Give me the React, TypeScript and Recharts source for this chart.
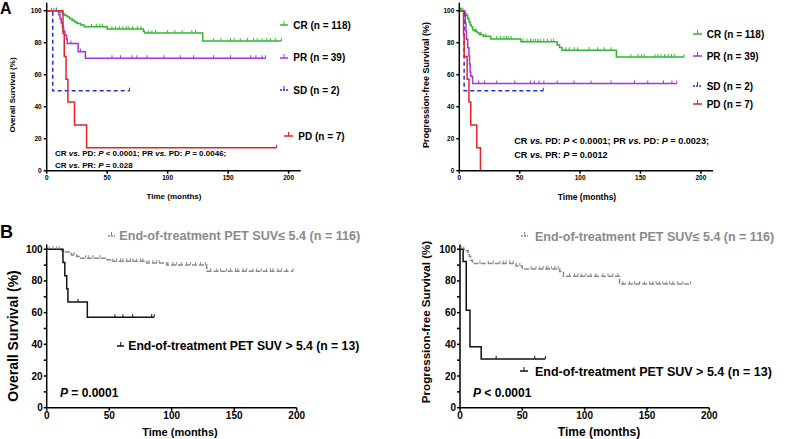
import React from 'react';
import { ComposedChart, Line, Scatter, XAxis, YAxis } from 'recharts';

const FONT = '"Liberation Sans", Arial, Helvetica, sans-serif';

// ---------- Panel A: overall survival by response ----------
const aOsCR = [[0,100],[10,99],[13,98],[15,97],[17,96],[19,95],[21,94],[23,93],[25,92],[28,91],[31,90],[50,88.5],[80,87],[81,86],[129,81]];
const aOsCREnd = 194;
const aOsCRCens = [4,6,8,37,41,44,46,54,57,60,63,66,68,71,75,78,84,87,90,100,106,112,120,123,138,144,152,155,160,166,171,174,178,182,185,189,194];
const aOsPR = [[0,100],[10,97.4],[11,94.9],[12,92.3],[13,89.7],[14,87.2],[15,84.6],[16.5,82.1],[17,79.5],[26,74.4],[32,70.3]];
const aOsPREnd = 181;
const aOsPRCens = [8,20,28,54,61,70.5,74.5,83,97,110.5,121.5,138,152,168.6,173,178,181];
const aOsSD = [[0,100],[5,50]];
const aOsSDEnd = 68.5;
const aOsSDCens = [68.5];
const aOsPD = [[0,100],[13.5,85.7],[14.5,71.4],[16,57.1],[17.5,42.9],[23,28.6],[33,14.3]];
const aOsPDEnd = 190;
const aOsPDCens = [190];

// ---------- Panel A: progression-free survival by response ----------
const aPfsCR = [[0,100],[4,99],[5,98],[6,97],[7,95],[8,93],[9,91],[10,90],[11,88],[13,87],[15,86],[17,85],[20,84],[26,82.3],[51,80.6],[81,78.5],[83,77],[85,75.3],[130,71]];
const aPfsCREnd = 186;
const aPfsCRCens = [1,2,3,14,18,22,31,34,37,39,41,43,53,56,59,61,63,65,67,70,73,76,78,88,91,95,98,107.5,114.5,120,125.6,142,148,151,153,162,164.5,167,170,173,175.6,178,186];
const aPfsPR = [[0,100],[4.5,97.4],[5,92.3],[5.5,87.2],[6,82.1],[7,76.9],[8,71.8],[8.5,66.7],[9,61.5],[9.5,59],[11,54.5]];
const aPfsPREnd = 180;
const aPfsPRCens = [16,21,31,46,59,62,66,70,81,95,109,125.6,145,156,169,176,180];
const aPfsSD = [[0,100],[4,50]];
const aPfsSDEnd = 69.5;
const aPfsSDCens = [69.5];
const aPfsPD = [[0,100],[3.5,85.7],[4,71.4],[6.5,57.1],[8,42.9],[9.5,28.6],[14.5,14.3],[17.5,0]];
const aPfsPDEnd = 17.5;
const aPfsPDCens: number[] = [];

// ---------- Panel B: overall survival by end-of-treatment PET SUV ----------
const bOsLow = [[0,100],[12,99.1],[15,98.2],[18,97.3],[20,96.4],[24,95.5],[26,94.4],[48,93.4],[51,92.4],[80,91.3],[96,90.1],[128,86.1]];
const bOsLowEnd = 197;
const bOsLowCens = [2,5,8,10,22,31,33.3,37,42.6,53,56,59,61,64,67,69,72,75,77,82,85,88,90,97,101,104,108,112,115,119,123,127,131,136,139,144,147,151,153,157,160,165,168,172,176,179,181,185,188,192,197];
const bOsHigh = [[0,100],[13,91.7],[14.5,83.3],[16,75],[17,66.7],[32.5,57.1]];
const bOsHighEnd = 86;
const bOsHighCens = [25,54.6,61,68.8,84,86];

// ---------- Panel B: progression-free survival by end-of-treatment PET SUV ----------
const bPfsLow = [[0,100],[5,99],[6.5,97.3],[7.5,95.5],[8.5,93],[10,91],[45,89.5],[50,87.5],[80,85.9],[83,83],[128,78]];
const bPfsLowEnd = 185;
const bPfsLowCens = [1,3,16,22.7,26.7,32,34.7,37,40,42.7,48,57,61,64,66.7,69.3,70.7,73.3,76,78.7,88,92,94.7,97.3,101,105,109,114.7,118.7,122.7,126.7,130.7,136,140,144,148,152,154.7,157.3,160,162.7,165.3,168,170.7,174.7,178.7,185];
const bPfsHigh = [[0,100],[2.5,92.3],[5,61.5],[8,38.5],[17,30.8]];
const bPfsHighEnd = 68.5;
const bPfsHighCens = [29,60,68.5];

const xTicksA = [0, 50, 100, 150, 200];
const yTicksA = [0, 20, 40, 60, 80, 100];
const xTicksB = [0, 50, 100, 150, 200];
const yTicksB = [0, 10, 20, 30, 40, 50, 60, 70, 80, 90, 100];

const GREEN = '#2fb82f';
const PURPLE = '#a436d8';
const BLUE = '#2430d8';
const RED = '#e82222';
const GRAY = '#8a8a8a';
const BLACK = '#111111';

type Series = { steps: number[][]; end: number; cens: number[]; color: string; dash?: string; width?: number };

function survAt(steps: number[][], t: number) {
  let s = steps[0][1];
  for (const [tt, ss] of steps) if (tt <= t) s = ss;
  return s;
}

function lineData(se: Series) {
  const pts = se.steps.map(([t, s]) => ({ t, s }));
  const last = se.steps[se.steps.length - 1];
  if (se.end > last[0]) pts.push({ t: se.end, s: last[1] });
  return pts;
}

function censData(se: Series) {
  return se.cens.map((t) => ({ t, s: survAt(se.steps, t) }));
}

function Panel(props: any) {
  const { left, top, width, height, margin, yWidth, xHeight, xDomain, xTicks, yDomain, yTicks, fontSize, tickSize, tickMargin, series, minorEvery } = props;
  const tickStyle = { fill: '#000', fontSize, fontWeight: 'bold', fontFamily: FONT };
  const withCens = series.filter((se: Series) => se.cens.length > 0);
  return (
    <div style={{ position: 'absolute', left, top }}>
      <ComposedChart width={width} height={height} margin={margin}>
        <XAxis type="number" dataKey="t" domain={xDomain} ticks={xTicks} interval={0} allowDataOverflow
          height={xHeight} tick={tickStyle} tickSize={tickSize} tickMargin={tickMargin}
          axisLine={{ stroke: '#000', strokeWidth: 1.5 }} tickLine={{ stroke: '#000', strokeWidth: 1.5 }} />
        <YAxis type="number" dataKey="s" domain={yDomain} ticks={yTicks} interval={0} allowDataOverflow
          width={yWidth} tick={tickStyle} tickSize={tickSize} tickMargin={tickMargin}
          tickFormatter={(v: number) => (v % minorEvery === 0 ? String(v) : '')}
          axisLine={{ stroke: '#000', strokeWidth: 1.5 }} tickLine={{ stroke: '#000', strokeWidth: 1.5 }} />
        {series.map((se: Series, i: number) => (
          <Line key={'l' + i} data={lineData(se)} dataKey="s" type="stepAfter" stroke={se.color}
            strokeWidth={se.width ?? 1.5} strokeDasharray={se.dash} dot={false} activeDot={false}
            isAnimationActive={false} legendType="none" />
        ))}
        {withCens.map((se: Series, i: number) => (
          <Scatter key={'c' + i} data={censData(se)} dataKey="s" isAnimationActive={false} legendType="none"
            shape={(p: any) =>
              typeof p.cx === 'number' && typeof p.cy === 'number' && p.payload && typeof p.payload.t === 'number' ? (
                <line x1={p.cx} x2={p.cx} y1={p.cy - 3} y2={p.cy} stroke={se.color} strokeWidth={1} />
              ) : <g />
            } />
        ))}
      </ComposedChart>
    </div>
  );
}

function Txt({ x, y, size, children, color = '#000', anchor = 'left', rotate = false }: any) {
  const tf = rotate
    ? 'translate(-50%, -50%) rotate(-90deg)'
    : anchor === 'center' ? 'translate(-50%, -50%)' : 'translate(0, -50%)';
  return (
    <div style={{ position: 'absolute', left: x, top: y, transform: tf, whiteSpace: 'nowrap', fontFamily: FONT,
      fontWeight: 'bold', fontSize: size, color, lineHeight: 1 }}>
      {children}
    </div>
  );
}

function Marker({ x, y, w, color, dash }: any) {
  return (
    <svg style={{ position: 'absolute', left: x, top: y - 4 }} width={w} height={6}>
      <line x1={0} x2={w} y1={4} y2={4} stroke={color} strokeWidth={1.5} strokeDasharray={dash} />
      <line x1={w / 2} x2={w / 2} y1={0} y2={4} stroke={color} strokeWidth={1} />
    </svg>
  );
}

const I = ({ children }: any) => <i>{children}</i>;

export default function App() {
  const aOsSeries: Series[] = [
    { steps: aOsCR, end: aOsCREnd, cens: aOsCRCens, color: GREEN },
    { steps: aOsPR, end: aOsPREnd, cens: aOsPRCens, color: PURPLE },
    { steps: aOsSD, end: aOsSDEnd, cens: aOsSDCens, color: BLUE, dash: '4 3' },
    { steps: aOsPD, end: aOsPDEnd, cens: aOsPDCens, color: RED },
  ];
  const aPfsSeries: Series[] = [
    { steps: aPfsCR, end: aPfsCREnd, cens: aPfsCRCens, color: GREEN },
    { steps: aPfsPR, end: aPfsPREnd, cens: aPfsPRCens, color: PURPLE },
    { steps: aPfsSD, end: aPfsSDEnd, cens: aPfsSDCens, color: BLUE, dash: '4 3' },
    { steps: aPfsPD, end: aPfsPDEnd, cens: aPfsPDCens, color: RED },
  ];
  const bOsSeries: Series[] = [
    { steps: bOsLow, end: bOsLowEnd, cens: bOsLowCens, color: GRAY, dash: '5 2' },
    { steps: bOsHigh, end: bOsHighEnd, cens: bOsHighCens, color: BLACK },
  ];
  const bPfsSeries: Series[] = [
    { steps: bPfsLow, end: bPfsLowEnd, cens: bPfsLowCens, color: GRAY, dash: '5 2' },
    { steps: bPfsHigh, end: bPfsHighEnd, cens: bPfsHighCens, color: BLACK },
  ];

  return (
    <div style={{ position: 'absolute', left: 0, top: 0, width: 788, height: 439, background: '#fff', overflow: 'hidden' }}>
      {/* Panel A left */}
      <Panel left={0} top={0} width={310} height={210} margin={{ top: 2.7, right: 9.3, bottom: 14.3, left: 0 }}
        yWidth={46.7} xHeight={25} xDomain={[0, 210]} xTicks={xTicksA} yDomain={[0, 105]} yTicks={yTicksA}
        fontSize={6.5} tickSize={3} tickMargin={2} series={aOsSeries} minorEvery={20} />
      {/* Panel A right */}
      <Panel left={400} top={0} width={320} height={210} margin={{ top: 2.7, right: 7, bottom: 14.3, left: 0 }}
        yWidth={59.3} xHeight={25} xDomain={[0, 210]} xTicks={xTicksA} yDomain={[0, 105]} yTicks={yTicksA}
        fontSize={6.5} tickSize={3} tickMargin={2} series={aPfsSeries} minorEvery={20} />
      {/* Panel B left */}
      <Panel left={0} top={220} width={310} height={219} margin={{ top: 24.5, right: 13.3, bottom: 6.3, left: 0 }}
        yWidth={46.7} xHeight={25} xDomain={[0, 200]} xTicks={xTicksB} yDomain={[0, 103]} yTicks={yTicksB}
        fontSize={10} tickSize={3} tickMargin={1} series={bOsSeries} minorEvery={20} />
      {/* Panel B right */}
      <Panel left={400} top={220} width={320} height={219} margin={{ top: 24.5, right: 10.7, bottom: 6.3, left: 0 }}
        yWidth={60} xHeight={25} xDomain={[0, 200]} xTicks={xTicksB} yDomain={[0, 103]} yTicks={yTicksB}
        fontSize={10} tickSize={3} tickMargin={1} series={bPfsSeries} minorEvery={20} />

      {/* Panel letters */}
      <Txt x={0} y={9} size={16}>A</Txt>
      <Txt x={0} y={232} size={18}>B</Txt>

      {/* Axis titles */}
      <Txt x={12.5} y={95} size={8} rotate>Overall Survival (%)</Txt>
      <Txt x={174} y={197} size={8} anchor="center">Time (months)</Txt>
      <Txt x={426} y={85} size={9} rotate>Progression-free Survival (%)</Txt>
      <Txt x={587} y={197} size={8.5} anchor="center">Time (months)</Txt>
      <Txt x={13.3} y={336} size={14} rotate>Overall Survival (%)</Txt>
      <Txt x={180} y={431.7} size={11} anchor="center">Time (months)</Txt>
      <Txt x={425.8} y={322} size={11.6} rotate>Progression-free Survival (%)</Txt>
      <Txt x={599} y={431.7} size={12} anchor="center">Time (months)</Txt>

      {/* Legends A left */}
      <Marker x={280} y={25} w={8} color={GREEN} />
      <Txt x={293.3} y={26} size={10}>CR (n = 118)</Txt>
      <Marker x={280} y={58} w={8} color={PURPLE} />
      <Txt x={293.3} y={58.3} size={10}>PR (n = 39)</Txt>
      <Marker x={280} y={90} w={8} color={BLUE} dash="2 1" />
      <Txt x={293.3} y={90.7} size={10}>SD (n = 2)</Txt>
      <Marker x={284.3} y={136} w={9} color={RED} />
      <Txt x={298.3} y={136.7} size={10}>PD (n = 7)</Txt>

      {/* Legends A right */}
      <Marker x={692.7} y={34} w={9} color={GREEN} />
      <Txt x={706.7} y={35} size={10}>CR (n = 118)</Txt>
      <Marker x={692.7} y={56} w={9} color={PURPLE} />
      <Txt x={706.7} y={56.7} size={10}>PR (n = 39)</Txt>
      <Marker x={692.7} y={86} w={9} color={BLUE} dash="2 1" />
      <Txt x={706.7} y={86.7} size={10}>SD (n = 2)</Txt>
      <Marker x={692.7} y={104} w={9} color={RED} />
      <Txt x={706.7} y={105} size={10}>PD (n = 7)</Txt>

      {/* P-values A */}
      <Txt x={55} y={154} size={8}>CR <I>vs.</I> PD: <I>P</I> &lt; 0.0001; PR <I>vs.</I> PD: <I>P</I> = 0.0046;</Txt>
      <Txt x={55} y={166} size={8}>CR <I>vs.</I> PR: <I>P</I> = 0.028</Txt>
      <Txt x={514.3} y={141.7} size={9.1}>CR <I>vs.</I> PD: <I>P</I> &lt; 0.0001; PR <I>vs.</I> PD: <I>P</I> = 0.0023;</Txt>
      <Txt x={514.3} y={155.7} size={9.1}>CR <I>vs.</I> PR: <I>P</I> = 0.0012</Txt>

      {/* Legends B left */}
      <Marker x={108.3} y={236} w={7} color={GRAY} dash="2 1" />
      <Txt x={119.3} y={236} size={12.6} color={GRAY}>End-of-treatment PET SUV≤ 5.4 (n = 116)</Txt>
      <Marker x={116.7} y={346} w={7.5} color={BLACK} />
      <Txt x={128.3} y={346} size={12.2}>End-of-treatment PET SUV &gt; 5.4 (n = 13)</Txt>
      <Txt x={60} y={393} size={12}><I>P</I> = 0.0001</Txt>

      {/* Legends B right */}
      <Marker x={520.7} y={236} w={7.5} color={GRAY} dash="2 1" />
      <Txt x={535} y={236.7} size={12.5} color={GRAY}>End-of-treatment PET SUV≤ 5.4 (n = 116)</Txt>
      <Marker x={520} y={371} w={8} color={BLACK} />
      <Txt x={535} y={371.7} size={12.5}>End-of-treatment PET SUV &gt; 5.4 (n = 13)</Txt>
      <Txt x={473} y={392.7} size={12}><I>P</I> &lt; 0.0001</Txt>
    </div>
  );
}
